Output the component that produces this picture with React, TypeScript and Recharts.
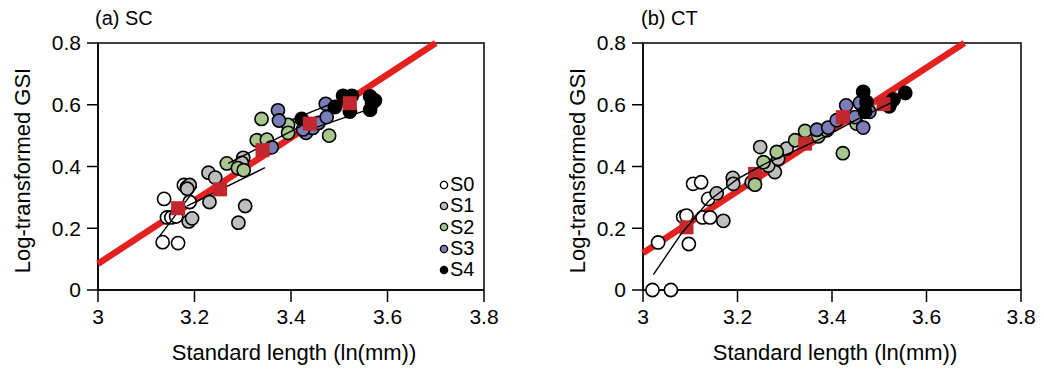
import React from 'react';
import { ScatterChart, Scatter, XAxis, YAxis, Legend, ReferenceArea } from 'recharts';

type Pt = { x: number; y: number };

const FONT = '"Liberation Sans", Arial, sans-serif';

const stageNames = ['S0', 'S1', 'S2', 'S3', 'S4'];
const stageColors = ['#ffffff', '#bebebe', '#a7c78f', '#7a7db8', '#000000'];
const xTicks = [3, 3.2, 3.4, 3.6, 3.8];
const yTicks = [0, 0.2, 0.4, 0.6, 0.8];

// ---- (a) SC ----
const scS0: Pt[] = [
  { x: 3.134, y: 0.155 }, { x: 3.166, y: 0.152 }, { x: 3.137, y: 0.295 }, { x: 3.143, y: 0.235 },
  { x: 3.152, y: 0.235 }, { x: 3.162, y: 0.238 }, { x: 3.178, y: 0.34 }, { x: 3.19, y: 0.285 },
];
const scS1: Pt[] = [
  { x: 3.184, y: 0.333 }, { x: 3.19, y: 0.34 }, { x: 3.188, y: 0.222 }, { x: 3.195, y: 0.232 },
  { x: 3.229, y: 0.38 }, { x: 3.243, y: 0.364 }, { x: 3.231, y: 0.285 }, { x: 3.305, y: 0.272 },
  { x: 3.291, y: 0.218 }, { x: 3.301, y: 0.428 }, { x: 3.298, y: 0.412 }, { x: 3.185, y: 0.328 },
];
const scS2: Pt[] = [
  { x: 3.267, y: 0.41 }, { x: 3.29, y: 0.395 }, { x: 3.302, y: 0.388 }, { x: 3.329, y: 0.485 },
  { x: 3.35, y: 0.487 }, { x: 3.339, y: 0.554 }, { x: 3.394, y: 0.535 }, { x: 3.394, y: 0.509 },
  { x: 3.479, y: 0.5 },
];
const scS3: Pt[] = [
  { x: 3.373, y: 0.582 }, { x: 3.375, y: 0.549 }, { x: 3.36, y: 0.462 }, { x: 3.431, y: 0.509 },
  { x: 3.445, y: 0.525 }, { x: 3.457, y: 0.541 }, { x: 3.474, y: 0.56 }, { x: 3.472, y: 0.603 },
  { x: 3.425, y: 0.52 },
];
const scS4: Pt[] = [
  { x: 3.422, y: 0.554 }, { x: 3.491, y: 0.593 }, { x: 3.508, y: 0.629 }, { x: 3.526, y: 0.629 },
  { x: 3.522, y: 0.578 }, { x: 3.564, y: 0.627 }, { x: 3.574, y: 0.614 }, { x: 3.564, y: 0.584 },
  { x: 3.568, y: 0.605 }, { x: 3.518, y: 0.615 },
];
const scMeans: Pt[] = [
  { x: 3.166, y: 0.265 }, { x: 3.253, y: 0.326 }, { x: 3.341, y: 0.453 }, { x: 3.439, y: 0.539 }, { x: 3.522, y: 0.605 },
];
const scOverall: Pt[] = [{ x: 3.0, y: 0.085 }, { x: 3.7, y: 0.8 }];
const scFitS0: Pt[] = [{ x: 3.127, y: 0.173 }, { x: 3.205, y: 0.335 }];
const scFitS1: Pt[] = [{ x: 3.184, y: 0.272 }, { x: 3.346, y: 0.396 }];
const scFitS2: Pt[] = [{ x: 3.27, y: 0.41 }, { x: 3.42, y: 0.53 }];
const scFitS3: Pt[] = [{ x: 3.4, y: 0.55 }, { x: 3.51, y: 0.62 }];
const scFitS4: Pt[] = [{ x: 3.44, y: 0.52 }, { x: 3.57, y: 0.59 }];

// ---- (b) CT ----
const ctS0: Pt[] = [
  { x: 3.02, y: 0.0 }, { x: 3.059, y: 0.0 }, { x: 3.032, y: 0.154 }, { x: 3.097, y: 0.149 },
  { x: 3.085, y: 0.237 }, { x: 3.092, y: 0.241 }, { x: 3.106, y: 0.344 }, { x: 3.123, y: 0.349 },
  { x: 3.126, y: 0.235 }, { x: 3.142, y: 0.235 }, { x: 3.138, y: 0.295 },
];
const ctS1: Pt[] = [
  { x: 3.156, y: 0.313 }, { x: 3.17, y: 0.224 }, { x: 3.19, y: 0.363 }, { x: 3.191, y: 0.344 },
  { x: 3.248, y: 0.463 }, { x: 3.23, y: 0.349 }, { x: 3.279, y: 0.382 }, { x: 3.265, y: 0.403 },
  { x: 3.286, y: 0.425 }, { x: 3.304, y: 0.458 },
];
const ctS2: Pt[] = [
  { x: 3.237, y: 0.341 }, { x: 3.255, y: 0.414 }, { x: 3.283, y: 0.447 }, { x: 3.322, y: 0.485 },
  { x: 3.343, y: 0.515 }, { x: 3.371, y: 0.498 }, { x: 3.423, y: 0.443 }, { x: 3.452, y: 0.539 },
  { x: 3.389, y: 0.517 },
];
const ctS3: Pt[] = [
  { x: 3.368, y: 0.519 }, { x: 3.392, y: 0.526 }, { x: 3.41, y: 0.55 }, { x: 3.43, y: 0.598 },
  { x: 3.459, y: 0.606 }, { x: 3.466, y: 0.526 }, { x: 3.479, y: 0.577 }, { x: 3.449, y: 0.56 },
];
const ctS4: Pt[] = [
  { x: 3.466, y: 0.642 }, { x: 3.47, y: 0.577 }, { x: 3.473, y: 0.609 }, { x: 3.521, y: 0.595 },
  { x: 3.53, y: 0.617 }, { x: 3.555, y: 0.638 }, { x: 3.524, y: 0.607 },
];
const ctMeans: Pt[] = [
  { x: 3.092, y: 0.203 }, { x: 3.237, y: 0.376 }, { x: 3.343, y: 0.474 }, { x: 3.423, y: 0.56 }, { x: 3.509, y: 0.602 },
];
const ctOverall: Pt[] = [{ x: 3.0, y: 0.12 }, { x: 3.68, y: 0.8 }];
const ctCurve: Pt[] = [
  { x: 3.022, y: 0.05 }, { x: 3.08, y: 0.18 }, { x: 3.14, y: 0.29 }, { x: 3.2, y: 0.36 }, { x: 3.26, y: 0.41 },
  { x: 3.32, y: 0.45 }, { x: 3.39, y: 0.5 }, { x: 3.45, y: 0.55 }, { x: 3.53, y: 0.61 },
];

const noDot = () => <g />;
const dot = (fill: string) => (p: any) => (
  <circle cx={p.cx} cy={p.cy} r={6.6} fill={fill} stroke="#000" strokeWidth={1.6} />
);
const square = (p: any) => <rect x={p.cx - 7} y={p.cy - 7} width={14} height={14} fill="#c1272d" />;

const StageLegend = ({ payload }: any) => (
  <div style={{ fontFamily: FONT, fontSize: 20, lineHeight: '21.3px', color: '#000' }}>
    {(payload || []).filter((e: any) => stageNames.includes(e.value)).map((e: any) => (
      <div key={e.value} style={{ display: 'flex', alignItems: 'center' }}>
        <svg width={10} height={10} style={{ marginRight: 1 }}>
          <circle cx={5} cy={5} r={3.6} fill={stageColors[stageNames.indexOf(e.value)]} stroke="#000" strokeWidth={1.4} />
        </svg>
        <span>{e.value}</span>
      </div>
    ))}
  </div>
);

type PanelProps = {
  stages: Pt[][];
  means: Pt[];
  overall: Pt[];
  fits: Pt[][];
  yAxisWidth: number;
  marginRight: number;
  yTitleX: number;
  showLegend?: boolean;
  meansOnTop?: boolean;
};

function Panel(props: PanelProps) {
  const { stages, means, overall, fits, yAxisWidth, marginRight, yTitleX, showLegend, meansOnTop } = props;
  // means either all on top, or each one right after its own stage's points
  const stageSeries: React.ReactNode[] = [];
  stages.forEach((pts, i) => {
    stageSeries.push(
      <Scatter key={stageNames[i]} name={stageNames[i]} data={pts} fill={stageColors[i]} shape={dot(stageColors[i])}
        legendType="circle" isAnimationActive={false} />
    );
    if (!meansOnTop) {
      stageSeries.push(
        <Scatter key={'mean' + i} data={[means[i]]} shape={square} legendType="none" isAnimationActive={false} />
      );
    }
  });
  return (
    <ScatterChart width={522} height={371} margin={{ top: 43, right: marginRight, bottom: 0, left: 0 }}>
      <XAxis
        type="number" dataKey="x" domain={[3, 3.8]} ticks={xTicks}
        height={81} tickSize={12} tickMargin={7}
        axisLine={{ stroke: '#000', strokeWidth: 1.5 }} tickLine={{ stroke: '#000', strokeWidth: 1.5 }}
        tick={{ fill: '#000', fontSize: 21, fontFamily: FONT }}
        label={{
          content: (lp: any) => {
            const vb = lp.viewBox;
            return (
              <text x={vb.x + vb.width / 2 + 3} y={vb.y + 70} textAnchor="middle" fontSize={22} fontFamily={FONT} fill="#000">
                Standard length (ln(mm))
              </text>
            );
          },
        }}
      />
      <YAxis
        type="number" dataKey="y" domain={[0, 0.8]} ticks={yTicks}
        width={yAxisWidth} tickSize={11} tickMargin={6}
        axisLine={{ stroke: '#000', strokeWidth: 1.5 }} tickLine={{ stroke: '#000', strokeWidth: 1.5 }}
        tick={{ fill: '#000', fontSize: 21, fontFamily: FONT }}
        label={{
          content: (lp: any) => {
            const vb = lp.viewBox;
            const cx = vb.x + yTitleX;
            const cy = vb.y + vb.height / 2 + 4;
            return (
              <text x={cx} y={cy} transform={`rotate(-90 ${cx} ${cy})`} textAnchor="middle" dominantBaseline="central"
                fontSize={22} fontFamily={FONT} fill="#000">
                Log-transformed GSI
              </text>
            );
          },
        }}
      />
      <ReferenceArea x1={3} x2={3.8} y1={0} y2={0.8} fill="none" stroke="#000" strokeWidth={1.5} />
      <Scatter data={overall} shape={noDot} line={{ stroke: '#e3211f', strokeWidth: 6.5 }} legendType="none" isAnimationActive={false} />
      {stageSeries}
      {fits.map((pts, i) => (
        <Scatter key={'fit' + i} data={pts} shape={noDot} line={{ stroke: '#000', strokeWidth: 1.4 }} legendType="none"
          isAnimationActive={false} />
      ))}
      {meansOnTop && (
        <Scatter data={means} shape={square} legendType="none" isAnimationActive={false} />
      )}
      {showLegend && (
        <Legend layout="vertical" align="center" verticalAlign="middle" content={StageLegend}
          wrapperStyle={{ left: 439, top: 174, width: 50 }} />
      )}
    </ScatterChart>
  );
}

const titleStyle: React.CSSProperties = {
  position: 'absolute', top: 6, fontFamily: FONT, fontSize: 20, color: '#000', lineHeight: '24px',
};

export default function App() {
  return (
    <div style={{ position: 'absolute', left: 0, top: 0, width: 1044, height: 371, background: '#fff' }}>
      <div style={{ position: 'absolute', left: 0, top: 0 }}>
        <Panel stages={[scS0, scS1, scS2, scS3, scS4]} means={scMeans} overall={scOverall}
          fits={[scFitS0, scFitS1, scFitS2, scFitS3, scFitS4]} yAxisWidth={98} marginRight={38} yTitleX={22}
          showLegend meansOnTop />
      </div>
      <div style={{ position: 'absolute', left: 522, top: 0 }}>
        <Panel stages={[ctS0, ctS1, ctS2, ctS3, ctS4]} means={ctMeans} overall={ctOverall}
          fits={[ctCurve]} yAxisWidth={121} marginRight={23} yTitleX={55} />
      </div>
      <div style={{ ...titleStyle, left: 95 }}>(a) SC</div>
      <div style={{ ...titleStyle, left: 641 }}>(b) CT</div>
    </div>
  );
}
